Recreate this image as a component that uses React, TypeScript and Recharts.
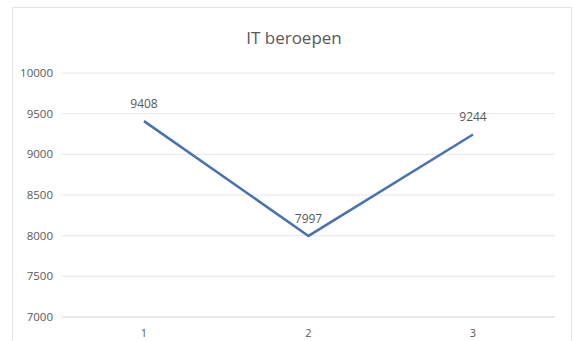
import React from 'react';
import { LineChart, Line, XAxis, YAxis, CartesianGrid, LabelList } from 'recharts';

const categories = ['1', '2', '3'];
const values = [9408, 7997, 9244];
const yTicks = [7000, 7500, 8000, 8500, 9000, 9500, 10000];

const chartData = categories.map((name, i) => ({ name, value: values[i] }));

const font = '"Open Sans", "Liberation Sans", sans-serif';

export default function App() {
    return (
        <div style={{ position: 'absolute', left: 0, top: 0, width: 574, height: 341, background: '#fff', overflow: 'hidden', fontFamily: font }}>
            {/* chart area frame */}
            <div style={{ position: 'absolute', left: 12, top: 7, width: 560, height: 360, border: '1px solid #e3e3e3', boxSizing: 'border-box' }} />
            <div style={{ position: 'absolute', left: 0, top: 26, width: 588, textAlign: 'center', fontSize: 17, color: '#595959' }}>
                IT beroepen
            </div>
            <div style={{ position: 'absolute', left: 0, top: 0 }}>
                <LineChart width={574} height={341} data={chartData} margin={{ top: 73, right: 19, bottom: 0, left: 0 }}>
                    <CartesianGrid vertical={false} stroke="#e6e6e6" />
                    <XAxis
                        dataKey="name"
                        height={24}
                        padding={{ left: 82, right: 82 }}
                        axisLine={{ stroke: '#e0e0e0' }}
                        tickLine={false}
                        tickSize={6}
                        tickMargin={6}
                        tick={{ fill: '#595959', fontSize: 11, fontFamily: font }}
                    />
                    <YAxis
                        width={62}
                        domain={[7000, 10000]}
                        ticks={yTicks}
                        axisLine={false}
                        tickLine={false}
                        tickMargin={3}
                        tick={{ fill: '#595959', fontSize: 11.5, fontFamily: font }}
                    />
                    <Line
                        dataKey="value"
                        stroke="#4a72b0"
                        strokeWidth={2.5}
                        dot={false}
                        isAnimationActive={false}
                    >
                        <LabelList dataKey="value" position="top" offset={13} fill="#595959" fontSize={12} fontFamily={font} />
                    </Line>
                </LineChart>
            </div>
        </div>
    );
}
